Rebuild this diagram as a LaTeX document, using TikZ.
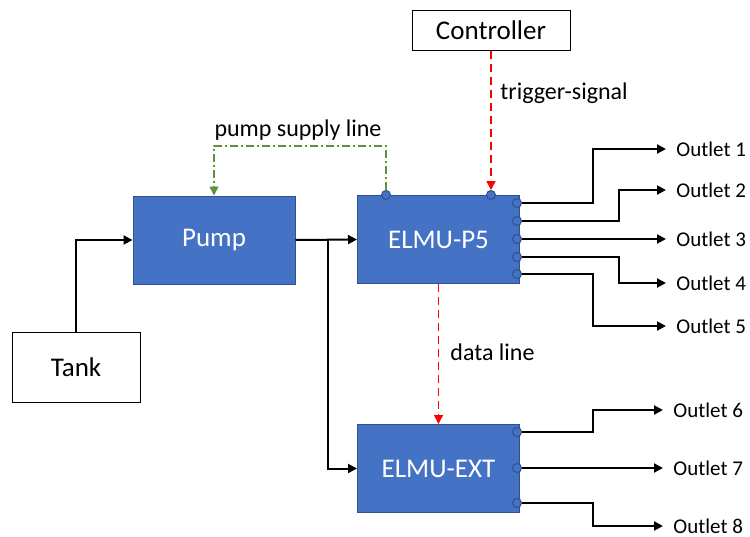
\documentclass[tikz,border=0pt]{standalone}
\usepackage{fontspec}
\setmainfont{Carlito}
\usetikzlibrary{arrows.meta, calc}
\definecolor{elmublue}{RGB}{68,114,196}
\definecolor{elmuedge}{RGB}{47,82,143}
\definecolor{supplygreen}{RGB}{96,146,62}

\tikzset{
  unit/.style={draw=elmuedge, fill=elmublue, text=white, line width=0.5pt,
    minimum width=81pt, minimum height=44pt, font=\fontsize{13.5}{16}\selectfont},
  plainbox/.style={draw=black, fill=white, line width=0.5pt,
    font=\fontsize{13.5}{16}\selectfont},
  port/.style={circle, draw=elmuedge, fill=elmublue, line width=0.5pt,
    minimum size=4.5pt, inner sep=0pt},
  flow/.style={line width=1pt, -{Triangle[length=4.5pt,width=4.5pt]}},
  trig/.style={red, line width=0.7pt, dash pattern=on 4pt off 2.5pt,
    -{Triangle[length=4.5pt,width=4.5pt]}},
  supply/.style={supplygreen, line width=0.7pt,
    dash pattern=on 4pt off 1.5pt on 1pt off 1.5pt,
    -{Triangle[length=4.5pt,width=4.5pt]}},
  tag/.style={font=\fontsize{12}{14}\selectfont, inner sep=0pt},
  outlet/.style={anchor=west, inner sep=5pt, font=\fontsize{10.5}{12}\selectfont}
}

\begin{document}
\begin{tikzpicture}[x=0.5pt, y=-0.5pt]
    \useasboundingbox (0,0) rectangle (750,536);

    % boxes
    \node[plainbox, minimum width=79pt, minimum height=20pt] (ctrl) at (491,30) {Controller};
    \node[plainbox, minimum width=64pt, minimum height=35pt] (tank) at (76,367) {Tank};
    \node[unit] (pump) at (214,240) {Pump};
    \node[unit] (elmu) at (438.5,239.5) {ELMU-P5};
    \node[unit] (ext) at (438.5,468.5) {ELMU-EXT};

    % ports
    \node[port] (sup) at (386,195) {};
    \node[port] (trg) at (491,195) {};
    \foreach \i/\y in {1/203, 2/221, 3/239, 4/257, 5/274, 6/432, 7/468, 8/503}
        \node[port] (q\i) at (517,\y) {};

    % outlet labels
    \foreach \i/\y in {1/149, 2/190, 3/239, 4/283, 5/326}
        \node[outlet] (o\i) at (666,\y) {Outlet \i};
    \foreach \i/\y in {6/410, 7/468, 8/526}
        \node[outlet] (o\i) at (663,\y) {Outlet \i};

    % water path
    \coordinate (split) at (328,240);
    \draw[flow] (tank.north) |- (pump.west);
    \draw[flow] (pump.east) -- (elmu.west);
    \draw[flow] (split) |- (ext.west);

    % outlets
    \draw[flow] (q1.east) -- ++(71,0) |- (o1.west);
    \draw[flow] (q2.east) -- ++(97,0) |- (o2.west);
    \draw[flow] (q3.east) -- (o3.west);
    \draw[flow] (q4.east) -- ++(97,0) |- (o4.west);
    \draw[flow] (q5.east) -- ++(71,0) |- (o5.west);
    \draw[flow] (q6.east) -- ++(71,0) |- (o6.west);
    \draw[flow] (q7.east) -- (o7.west);
    \draw[flow] (q8.east) -- ++(71,0) |- (o8.west);

    % signals
    \draw[supply] (sup.north) -- ++(0,-44) -| (pump.north);
    \node[tag] (suplbl) at (298,130) {pump supply line};
    \draw[trig] (ctrl.south) -- (trg.north);
    \node[tag, anchor=west] (trglbl) at (500,93) {trigger-signal};
    \draw[trig] (elmu.south) -- (ext.north);
    \node[tag, anchor=west] (datlbl) at (450,352) {data line};
\end{tikzpicture}
\end{document}
